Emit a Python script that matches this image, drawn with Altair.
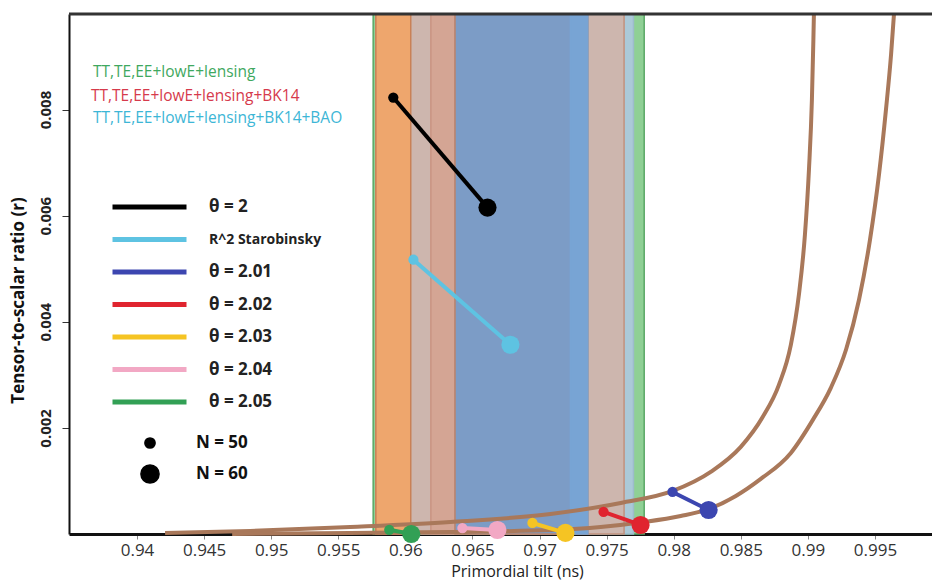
import altair as alt
import pandas as pd

# ---------------- data ----------------
x_ticks = [0.94, 0.945, 0.95, 0.955, 0.96, 0.965, 0.97, 0.975, 0.98, 0.985, 0.99, 0.995]
y_ticks = [0.002, 0.004, 0.006, 0.008]

# Planck / BK14 / BAO allowed regions in ns (drawn back to front)
band_names = ["lens_95", "bao_95", "bk14_95", "bk14_left", "bk14_68_left", "core_68", "core_68_right"]
band_lo = [0.9576, 0.9580, 0.9578, 0.9578, 0.9619, 0.9637, 0.9723]
band_hi = [0.9778, 0.9770, 0.9763, 0.9604, 0.9637, 0.9736, 0.9736]
band_fill = ["#8fd095", "#abc9d8", "#cdb6ae", "#eea66d", "#d4a594", "#7c9cc6", "#78a4d4"]
band_edge = ["#5aa866", "#9dbccc", "#c2917d", "#c98157", "#c99482", "#b9846e", "#78a4d4"]

# boundary curves of the model family
curve_a_ns = [0.94209, 0.94843, 0.95590, 0.96336, 0.97082, 0.97605, 0.97993, 0.98276, 0.98500,
              0.98664, 0.98784, 0.98873, 0.98933, 0.98978, 0.99008, 0.99030, 0.99041, 0.99045]
curve_a_r = [0.000019, 0.000057, 0.000132, 0.000226, 0.000377, 0.000585, 0.000811, 0.001170, 0.001642,
             0.002208, 0.002811, 0.003566, 0.004509, 0.005642, 0.006868, 0.008189, 0.009321, 0.009811]
curve_b_ns = [0.94709, 0.95590, 0.96336, 0.97082, 0.97455, 0.97776, 0.98052, 0.98261, 0.98463,
              0.98649, 0.98873, 0.99037, 0.99171, 0.99284, 0.99381, 0.99463, 0.99530, 0.99582,
              0.99620, 0.99642]
curve_b_r = [0.0, 0.000019, 0.000038, 0.000075, 0.000132, 0.000226, 0.000340, 0.000472, 0.000717,
             0.001038, 0.001528, 0.002151, 0.002755, 0.003472, 0.004415, 0.005547, 0.006774, 0.008000,
             0.009038, 0.009811]

# model predictions at N = 50 and N = 60 e-folds
models = ["θ = 2", "R^2 Starobinsky", "θ = 2.01", "θ = 2.02", "θ = 2.03", "θ = 2.04", "θ = 2.05"]
model_colors = ["#000000", "#5ec3e2", "#3c46b0", "#e0242f", "#f5c423", "#f2a8c4", "#32a055"]
ns_n50 = [0.95910, 0.96060, 0.97991, 0.97477, 0.96947, 0.96425, 0.95880]
r_n50 = [0.008226, 0.005170, 0.000793, 0.000415, 0.000208, 0.000113, 0.000080]
ns_n60 = [0.96612, 0.96783, 0.98260, 0.97753, 0.97193, 0.96686, 0.96044]
r_n60 = [0.006151, 0.003566, 0.000453, 0.000170, 0.000020, 0.000075, 0.000000]
n_labels = ["N = 50", "N = 60"]

dataset_labels = ["TT,TE,EE+lowE+lensing", "TT,TE,EE+lowE+lensing+BK14",
                  "TT,TE,EE+lowE+lensing+BK14+BAO"]
dataset_colors = ["#3fa860", "#d63a4c", "#3db6d6"]

# ---------------- tables ----------------
bands = pd.DataFrame({"band": band_names, "lo": band_lo, "hi": band_hi,
                      "idx": list(range(len(band_names)))})
curves = pd.DataFrame({
    "curve": ["a"] * len(curve_a_ns) + ["b"] * len(curve_b_ns),
    "ns": curve_a_ns + curve_b_ns,
    "r": curve_a_r + curve_b_r,
    "step": list(range(len(curve_a_ns))) + list(range(len(curve_b_ns))),
})
pts = pd.DataFrame({
    "model": models * 2,
    "N": [n_labels[0]] * len(models) + [n_labels[1]] * len(models),
    "ns": ns_n50 + ns_n60,
    "r": r_n50 + r_n60,
})

W, H = 863, 520
FONT = "Open Sans"

x_scale = alt.Scale(domain=[0.93493, 0.99925], nice=False, zero=False)
y_scale = alt.Scale(domain=[0, 0.0098], nice=False, zero=False)

x_axis = alt.Axis(values=x_ticks, format=".3~f", title="Primordial tilt (ns)", grid=False,
                  domainColor="#111", domainWidth=3, tickColor="#888", tickSize=5,
                  labelFont=FONT, labelFontSize=17, labelColor="#333", labelPadding=3,
                  titleFont=FONT, titleFontSize=16, titleFontWeight="normal", titleColor="#222",
                  titlePadding=5, titleX=448)
y_axis = alt.Axis(values=y_ticks, format=".3f", title="Tensor-to-scalar ratio (r)", grid=False,
                  domainColor="#111", domainWidth=2, tickColor="#333", tickSize=7,
                  labelFont=FONT, labelFontSize=15, labelFontWeight="bold", labelColor="#222",
                  labelAngle=270, labelAlign="center", labelBaseline="bottom", labelPadding=9,
                  titleFont=FONT, titleFontSize=17, titleFontWeight="bold", titleColor="#111",
                  titleAngle=270, titleX=-51, titleY=286, titleAlign="center",
                  titleBaseline="middle")

X = alt.X("ns:Q", scale=x_scale, axis=x_axis)
Y = alt.Y("r:Q", scale=y_scale, axis=y_axis)

color_legend = alt.Legend(
    title=None, orient="none", legendX=41, legendY=183, symbolType="stroke",
    symbolSize=5476, symbolStrokeWidth=5, clipHeight=20, rowPadding=12.5, labelOffset=20,
    labelFont=FONT, labelFontWeight="bold", labelColor="#222", labelLimit=0, padding=0,
    labelFontSize=alt.ExprRef("datum.label == 'R^2 Starobinsky' ? 14 : 17"),
)
size_legend = alt.Legend(
    title=None, orient="none", legendX=71, legendY=419, symbolType="circle",
    symbolFillColor="black", symbolStrokeColor="black", symbolOpacity=1,
    clipHeight=20, rowPadding=11, labelOffset=36, labelFont=FONT, labelFontSize=17,
    labelFontWeight="bold", labelColor="#111", padding=0,
)
color_scale = alt.Scale(domain=models, range=model_colors)

# ---------------- layers ----------------
band_layer = alt.Chart(bands).mark_rect(strokeWidth=1.5).encode(
    x=alt.X("lo:Q", scale=x_scale, axis=x_axis),
    x2="hi:Q",
    y=alt.value(0),
    y2=alt.value(H),
    fill=alt.Fill("band:N", scale=alt.Scale(domain=band_names, range=band_fill), legend=None),
    stroke=alt.Stroke("band:N", scale=alt.Scale(domain=band_names, range=band_edge), legend=None),
    order="idx:Q",
)

curve_layer = alt.Chart(curves).mark_line(color="#a9785a", strokeWidth=4, interpolate="monotone").encode(
    x=X, y=Y, detail="curve:N", order="step:Q"
)

model_lines = alt.Chart(pts).mark_line(strokeWidth=4).encode(
    x=X, y=Y,
    color=alt.Color("model:N", scale=color_scale, legend=color_legend, sort=models),
    detail="model:N",
)

model_points = alt.Chart(pts).mark_circle(opacity=1).encode(
    x=X, y=Y,
    color=alt.Color("model:N", scale=color_scale, legend=color_legend, sort=models),
    size=alt.Size("N:O", scale=alt.Scale(domain=n_labels, range=[105, 330]), legend=size_legend),
)

frame_top = alt.Chart(pd.DataFrame({"k": [0]})).mark_rule(color="#333", strokeWidth=3).encode(
    x=alt.value(0), x2=alt.value(W), y=alt.value(0)
)

text_x = [24, 22, 24]
text_y = [58, 82, 104]
text_layers = [
    alt.Chart(pd.DataFrame({"label": [lab]})).mark_text(
        align="left", baseline="middle", font=FONT, fontSize=15.5, color=col
    ).encode(x=alt.value(tx), y=alt.value(ty), text="label:N")
    for lab, col, tx, ty in zip(dataset_labels, dataset_colors, text_x, text_y)
]

chart = alt.layer(
    band_layer, curve_layer, model_lines, model_points, frame_top, *text_layers
).properties(
    width=W, height=H, autosize="none",
    padding={"left": 69, "top": 14, "right": 0, "bottom": 50},
    background="white",
).configure_view(stroke=None)

chart.save("out.html", embed_options={"renderer": "svg", "actions": False})
